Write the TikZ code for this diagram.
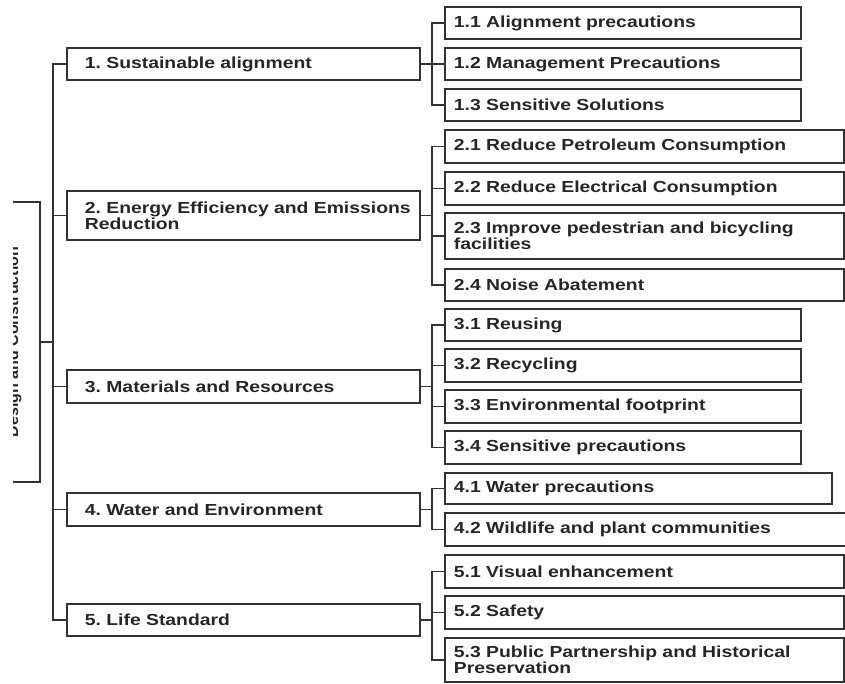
\documentclass[tikz,border=0pt]{standalone}
\usepackage{fontspec}
\setmainfont{Liberation Sans}[FakeStretch=1.21]
\newfontfamily\rootfont{Liberation Sans}
\usetikzlibrary{positioning}

\begin{document}
\frenchspacing
\begin{tikzpicture}[x=1pt,y=-1pt,line width=1.8pt,draw=black!80,
                font=\fontsize{16}{16}\selectfont\bfseries,
                main node/.style={rectangle,draw=black!80,anchor=north west,align=left,
                                  inner ysep=0pt,text=black!85,minimum height=32pt},
                cat node/.style={main node,inner xsep=18pt,text width=317pt},
                sub node/.style={main node,inner xsep=9pt,text width=#1}]

        \useasboundingbox (0,0) rectangle (845,683);

        % root, cut off at the left
        \begin{scope}
          \clip (13,0) rectangle (845,683);
          \node[draw=black!80,rotate=90,minimum width=280pt,minimum height=52pt,
                inner sep=0pt,text=black!85,font=\rootfont\fontsize{16}{16}\selectfont\bfseries]
                (root) at (14,342) {Design and Construction};
        \end{scope}

        % first level
        \node[cat node] (1) at (66,47) {1. Sustainable alignment};
        \node[cat node,minimum height=49pt] (2) at (66,190) {\mbox{2. Energy Efficiency and Emissions}\\Reduction};
        \node[cat node,minimum height=33pt] (3) at (66,369) {3. Materials and Resources};
        \node[cat node,minimum height=33pt] (4) at (66,492) {4. Water and Environment};
        \node[cat node] (5) at (66,603) {5. Life Standard};

        % second level
        \node[sub node=338pt] (1-1) at (444,6) {1.1 Alignment precautions};
        \node[sub node=338pt] (1-2) at (444,47) {1.2 Management Precautions};
        \node[sub node=338pt] (1-3) at (444,88) {1.3 Sensitive Solutions};

        \node[sub node=381pt,minimum height=33pt] (2-1) at (444,129) {2.1 Reduce Petroleum Consumption};
        \node[sub node=381pt,minimum height=33pt] (2-2) at (444,171) {2.2 Reduce Electrical Consumption};
        \node[sub node=381pt,minimum height=46pt] (2-3) at (444,212) {2.3 Improve pedestrian and bicycling\\facilities};
        \node[sub node=381pt] (2-4) at (444,268) {2.4 Noise Abatement};

        \node[sub node=338pt] (3-1) at (444,308) {3.1 Reusing};
        \node[sub node=338pt,minimum height=33pt] (3-2) at (444,348) {3.2 Recycling};
        \node[sub node=338pt,minimum height=33pt] (3-3) at (444,389) {3.3 Environmental footprint};
        \node[sub node=338pt,minimum height=33pt] (3-4) at (444,430) {3.4 Sensitive precautions};

        \node[sub node=369pt,minimum height=31pt] (4-1) at (444,472) {4.1 Water precautions};
        \node[sub node=396pt,minimum height=33pt] (4-2) at (444,512) {4.2 Wildlife and plant communities};

        \node[sub node=381pt,minimum height=33pt] (5-1) at (444,554) {5.1 Visual enhancement};
        \node[sub node=381pt,minimum height=33pt] (5-2) at (444,595) {5.2 Safety};
        \node[sub node=381pt,minimum height=44pt] (5-3) at (444,637) {5.3 Public Partnership and Historical\\Preservation};

        % connectors
        \draw (root.south) -- ++(13,0);
        \draw (1.west) -- ++(-13,0) |- (5.west);
        \draw (2.west) -- ++(-13,0);
        \draw (3.west) -- ++(-13,0);
        \draw (4.west) -- ++(-13,0);

        \draw (1.east) -- ++(12,0);
        \draw (1-1.west) -- ++(-12,0) |- (1-3.west);
        \draw (1-2.west) -- ++(-12,0);

        \draw (2.east) -- ++(12,0);
        \draw (2-1.west) -- ++(-12,0) |- (2-4.west);
        \draw (2-2.west) -- ++(-12,0);
        \draw (2-3.west) -- ++(-12,0);

        \draw (3.east) -- ++(12,0);
        \draw (3-1.west) -- ++(-12,0) |- (3-4.west);
        \draw (3-2.west) -- ++(-12,0);
        \draw (3-3.west) -- ++(-12,0);

        \draw (4.east) -- ++(12,0);
        \draw (4-1.west) -- ++(-12,0) |- (4-2.west);

        \draw (5.east) -- ++(12,0);
        \draw (5-1.west) -- ++(-12,0) |- (5-3.west);
        \draw (5-2.west) -- ++(-12,0);
\end{tikzpicture}
\end{document}
